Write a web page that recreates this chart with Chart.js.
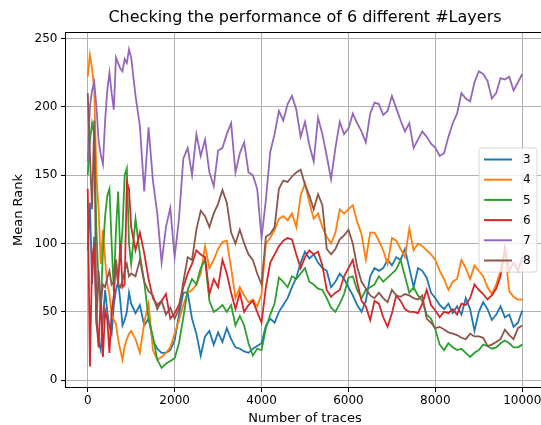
<!DOCTYPE html>
<html>
<head>
<meta charset="utf-8">
<script src="https://cdn.jsdelivr.net/npm/chart.js@4.4.1/dist/chart.umd.min.js"></script>
<style>
  html, body { margin: 0; padding: 0; background: #fff; overflow: hidden; }
  #wrap { width: 550px; height: 425px; }
</style>
</head>
<body>
<div id="wrap"><canvas id="c" width="550" height="425"></canvas></div>
<script>
// Number of traces at which the mean rank was evaluated
const traces = [
  0, 50, 100, 150, 200, 250, 300, 350, 400, 450, 500, 550, 600, 650, 700, 750, 800, 850, 900, 950, 1000,
  1100, 1200, 1300, 1400, 1500, 1600, 1700, 1800, 1900, 2000,
  2100, 2200, 2300, 2400, 2500, 2600, 2700, 2800, 2900, 3000,
  3100, 3200, 3300, 3400, 3500, 3600, 3700, 3800, 3900, 4000,
  4100, 4200, 4300, 4400, 4500, 4600, 4700, 4800, 4900, 5000,
  5100, 5200, 5300, 5400, 5500, 5600, 5700, 5800, 5900, 6000,
  6100, 6200, 6300, 6400, 6500, 6600, 6700, 6800, 6900, 7000,
  7100, 7200, 7300, 7400, 7500, 7600, 7700, 7800, 7900, 8000,
  8100, 8200, 8300, 8400, 8500, 8600, 8700, 8800, 8900, 9000,
  9100, 9200, 9300, 9400, 9500, 9600, 9700, 9800, 9900, 10000
];

const layerLabels = ['3', '4', '5', '6', '7', '8'];

// Mean rank per number of layers
const rankLayers3 = [
  95, 130, 70, 105, 45, 28, 22, 45, 66, 50, 39, 34, 55, 66, 72, 58, 40, 44, 50, 64, 56,
  49, 55, 40, 45, 29, 23, 20, 20, 22, 29,
  48, 64, 64, 45, 34, 18, 32, 36, 26, 35,
  28, 38, 30, 24, 23, 21, 20, 23, 25, 27,
  40, 45, 42, 50, 55, 60, 68, 75, 86, 94,
  89, 92, 86, 82, 80, 68, 72, 78, 74, 68,
  62, 55, 50, 58, 76, 82, 80, 82, 88, 84,
  90, 88, 96, 82, 68, 82, 80, 75, 64, 60,
  55, 52, 56, 49, 54, 48, 60, 52, 36, 50,
  57, 52, 44, 48, 54, 46, 48, 39, 42, 51
];
const rankLayers4 = [
  222, 238, 228, 212, 150, 125, 85, 110, 88, 70, 63, 48, 44, 41, 30, 22, 15, 25, 30, 34, 36,
  30, 20, 42, 56, 22, 15, 17, 20, 24, 34,
  44, 55, 64, 66, 70, 78, 98, 82, 88, 96,
  101, 102, 82, 60, 68, 62, 57, 59, 54, 63,
  100, 104, 110, 118, 120, 117, 122, 112, 135, 144,
  130, 118, 122, 112, 105, 100, 108, 125, 122, 125,
  128, 116, 107, 88, 108, 108, 102, 95, 85, 104,
  102, 96, 90, 111, 95, 100, 98, 95, 92, 88,
  80, 74, 66, 72, 74, 88, 82, 74, 84, 80,
  76, 68, 63, 70, 80, 94, 65, 61, 59, 59
];
const rankLayers5 = [
  150, 175, 188, 180, 110, 70, 55, 95, 120, 135, 140, 100, 65, 110, 138, 90, 110, 150, 155, 100, 85,
  118, 92, 72, 45, 32, 15, 9, 12, 14, 16,
  27, 46, 66, 74, 70, 82, 88, 58, 50, 52,
  55, 50, 55, 40, 47, 40, 27, 18, 23, 22,
  38, 48, 56, 75, 72, 68, 76, 74, 78, 82,
  72, 70, 67, 66, 60, 53, 50, 56, 63, 75,
  76, 66, 60, 66, 68, 70, 76, 72, 75, 78,
  81, 88, 76, 64, 68, 62, 58, 48, 45, 37,
  26, 22, 27, 24, 22, 23, 20, 17, 20, 22,
  26, 25, 23, 24, 27, 29, 27, 24, 24, 26
];
const rankLayers6 = [
  140, 10, 88, 100, 45, 24, 63, 17, 51, 44, 20, 50, 62, 88, 70, 100, 68, 70, 145, 140, 112,
  95, 108, 93, 74, 60, 55, 58, 63, 45, 49,
  55, 68, 78, 85, 95, 92, 90, 63, 74, 68,
  88, 78, 64, 52, 64, 50, 55, 58, 50, 42,
  68, 86, 92, 98, 102, 104, 103, 92, 82, 90,
  95, 92, 94, 84, 66, 61, 64, 66, 76, 82,
  88, 72, 58, 54, 44, 58, 56, 46, 39, 49,
  62, 58, 52, 50, 50, 49, 56, 66, 55, 51,
  46, 50, 49, 52, 48, 56, 55, 60, 70, 66,
  63, 59, 62, 67, 76, 97, 80, 86, 80, 90
];
const rankLayers7 = [
  160, 200, 212, 218, 200, 175, 165, 158, 190, 212, 225, 210, 198, 236, 232, 228, 226, 235, 232, 242, 236,
  208, 186, 138, 185, 146, 122, 86, 112, 126, 90,
  118, 162, 170, 150, 180, 164, 176, 152, 142, 168,
  170, 180, 188, 152, 166, 174, 152, 150, 140, 104,
  132, 167, 180, 197, 190, 202, 208, 198, 178, 189,
  172, 160, 192, 180, 164, 147, 170, 189, 180, 184,
  195, 188, 182, 174, 195, 203, 202, 194, 197, 208,
  199, 190, 182, 188, 170, 176, 182, 178, 173, 170,
  164, 166, 178, 188, 195, 210, 206, 204, 218, 226,
  224, 219, 206, 210, 221, 220, 222, 212, 218, 224
];
const rankLayers8 = [
  210, 165, 125, 190, 40, 80, 55, 70, 68, 75, 80, 70, 72, 88, 70, 68, 73, 80, 85, 76, 78,
  76, 88, 72, 65, 62, 52, 58, 48, 53, 45,
  52, 72, 90, 88, 110, 124, 120, 112, 122, 129,
  139, 130, 108, 100, 110, 100, 92, 88, 78, 70,
  105, 107, 112, 140, 146, 145, 149, 152, 154, 143,
  135, 125, 136, 128, 96, 92, 96, 103, 106, 110,
  100, 83, 72, 67, 62, 60, 64, 60, 57, 66,
  62, 61, 63, 62, 60, 59, 62, 45, 42, 38,
  39, 37, 35, 34, 33, 31, 30, 34, 32, 32,
  31, 25, 26, 28, 30, 37, 33, 30, 38, 40
];

const xTickValues = [0, 2000, 4000, 6000, 8000, 10000];
const yTickValues = [0, 50, 100, 150, 200, 250];

const seriesValues = [rankLayers3, rankLayers4, rankLayers5, rankLayers6, rankLayers7, rankLayers8];
const palette = ['#1f77b4', '#ff7f0e', '#2ca02c', '#d62728', '#9467bd', '#8c564b'];

const FONT = 'DejaVu Sans';
const INK = '#000';

const datasets = seriesValues.map((vals, i) => ({
  label: layerLabels[i],
  data: traces.map((t, k) => ({ x: t, y: vals[k] })),
  borderColor: palette[i],
  backgroundColor: palette[i],
  borderWidth: 1.8,
  pointRadius: 0,
  tension: 0,
  fill: false,
  // later series are painted over earlier ones
  order: seriesValues.length - 1 - i
}));

// Box around the plotting area (all four spines)
const framePlugin = {
  id: 'frame',
  afterDatasetsDraw(chart) {
    const { ctx, chartArea: a } = chart;
    ctx.save();
    ctx.strokeStyle = '#000';
    ctx.lineWidth = 1;
    ctx.strokeRect(Math.round(a.left) - 0.5, Math.round(a.top) - 0.5,
                   Math.round(a.right - a.left) + 1, Math.round(a.bottom - a.top) + 1);
    ctx.restore();
  }
};

// Legend box drawn inside the plot, right-centre
const legendPlugin = {
  id: 'insideLegend',
  afterDatasetsDraw(chart) {
    const { ctx, chartArea: a } = chart;
    const items = chart.data.datasets;
    const rowH = 20.2, padY = 1.5, w = 58, r = 3;
    const h = rowH * items.length + padY * 2;
    const right = a.right - 7;
    const left = right - w;
    const top = (a.top + a.bottom) / 2 - h / 2;
    ctx.save();
    ctx.beginPath();
    ctx.moveTo(left + r, top);
    ctx.lineTo(right - r, top);
    ctx.arcTo(right, top, right, top + r, r);
    ctx.lineTo(right, top + h - r);
    ctx.arcTo(right, top + h, right - r, top + h, r);
    ctx.lineTo(left + r, top + h);
    ctx.arcTo(left, top + h, left, top + h - r, r);
    ctx.lineTo(left, top + r);
    ctx.arcTo(left, top, left + r, top, r);
    ctx.closePath();
    ctx.fillStyle = 'rgba(255,255,255,0.8)';
    ctx.fill();
    ctx.strokeStyle = 'rgba(204,204,204,0.8)';
    ctx.lineWidth = 1;
    ctx.stroke();
    ctx.font = '12px "' + FONT + '"';
    ctx.textBaseline = 'middle';
    ctx.textAlign = 'left';
    items.forEach((ds, i) => {
      const y = top + padY + rowH * (i + 0.5);
      ctx.beginPath();
      ctx.strokeStyle = ds.borderColor;
      ctx.lineWidth = 2;
      ctx.moveTo(left + 5, y);
      ctx.lineTo(left + 33, y);
      ctx.stroke();
      ctx.fillStyle = INK;
      ctx.fillText(ds.label, left + 44, y + 0.5);
    });
    ctx.restore();
  }
};

new Chart(document.getElementById('c'), {
  type: 'line',
  data: { datasets },
  options: {
    responsive: false,
    animation: false,
    devicePixelRatio: 1,
    layout: { padding: { left: 0, right: 6, top: 0, bottom: 0 } },
    plugins: {
      legend: { display: false },
      tooltip: { enabled: false },
      title: {
        display: true,
        text: 'Checking the performance of 6 different #Layers',
        fullSize: false,
        color: INK,
        font: { family: FONT, size: 16, weight: 'normal' },
        padding: { top: 8.5, bottom: 5.3 }
      }
    },
    scales: {
      x: {
        type: 'linear',
        min: -500,
        max: 10500,
        afterBuildTicks: s => { s.ticks = xTickValues.map(v => ({ value: v })); },
        afterFit: s => { s.height = 38; },
        ticks: {
          callback: v => String(v),
          color: INK,
          font: { family: FONT, size: 12 },
          padding: 2,
          maxRotation: 0,
          autoSkip: false
        },
        grid: { color: '#b0b0b0', lineWidth: 1, tickLength: 5, tickColor: '#000', drawTicks: true },
        border: { display: false },
        title: {
          display: true,
          text: 'Number of traces',
          color: INK,
          font: { family: FONT, size: 13 },
          padding: { top: 0, bottom: -1.5 }
        }
      },
      y: {
        type: 'linear',
        min: -5,
        max: 254,
        afterBuildTicks: s => { s.ticks = yTickValues.map(v => ({ value: v })); },
        afterFit: s => { s.width = 66; },
        ticks: {
          callback: v => String(v),
          color: INK,
          font: { family: FONT, size: 12 },
          padding: 3.5,
          autoSkip: false
        },
        grid: { color: '#b0b0b0', lineWidth: 1, tickLength: 5, tickColor: '#000', drawTicks: true },
        border: { display: false },
        title: {
          display: true,
          text: 'Mean Rank',
          color: INK,
          font: { family: FONT, size: 13 },
          padding: { top: 11, bottom: 0 }
        }
      }
    }
  },
  plugins: [framePlugin, legendPlugin]
});
</script>
</body>
</html>
